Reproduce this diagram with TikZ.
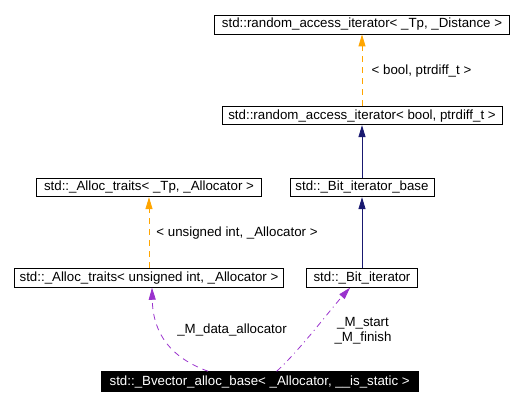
\documentclass[tikz,border=0pt]{standalone}
\usepackage{fontspec}
\setmainfont{Liberation Sans}
\usetikzlibrary{arrows.meta}
\definecolor{inhorange}{HTML}{FFA500}
\definecolor{inhnavy}{HTML}{191970}
\definecolor{usepurple}{HTML}{9A32CD}
\tikzset{
  box/.style={draw=black, line width=0.9pt, inner sep=0pt, minimum height=19pt, font=\fontsize{13.3}{15}\selectfont},
  darkbox/.style={box, fill=black, text=white},
  tip/.style={-{Triangle[length=12pt,width=7pt]}},
  tmplink/.style={tip, draw=inhorange, line width=0.9pt, dash pattern=on 6pt off 5pt},
  inhlink/.style={tip, draw=inhnavy, line width=0.9pt},
  uselink/.style={tip, draw=usepurple, line width=0.8pt, dash pattern=on 6pt off 5pt},
  usedot/.style={tip, draw=usepurple, line width=0.8pt, dash pattern=on 6pt off 4pt on 1pt off 4pt},
  lbl/.style={inner sep=0pt, font=\fontsize{13.3}{15}\selectfont, align=center}
}
\begin{document}
\begin{tikzpicture}[x=1pt,y=-1pt]
\useasboundingbox (0,0) rectangle (522,406);
\node[box, minimum width=295pt] (A) at (362,24.5) {std::random\_access\_iterator< \_Tp, \_Distance >};
\node[box, minimum width=280pt, minimum height=18pt] (B) at (362,115.7) {std::random\_access\_iterator< bool, ptrdiff\_t >};
\node[box, minimum width=225pt, minimum height=18.4pt] (C) at (149,187.5) {std::\_Alloc\_traits< \_Tp, \_Allocator >};
\node[box, minimum width=144pt, minimum height=18.4pt] (D) at (362,187.5) {std::\_Bit\_iterator\_base};
\node[box, minimum width=269pt] (E) at (149,277.8) {std::\_Alloc\_traits< unsigned int, \_Allocator >};
\node[box, minimum width=111pt] (F) at (362,277.8) {std::\_Bit\_iterator};
\node[darkbox, minimum width=317pt, minimum height=20pt] (G) at (259.7,381.7) {std::\_Bvector\_alloc\_base< \_Allocator, \_\_is\_static >};

\draw[tmplink] (B) -- (A);
\node[lbl] (lab1) at (421.5,71) {< bool, ptrdiff\_t >};
\draw[inhlink] (D) -- (B);
\draw[tmplink] (E) -- (C);
\node[lbl] (lab2) at (237,233.5) {< unsigned int, \_Allocator >};
\draw[inhlink] (F) -- (D);
\draw[uselink] ([xshift=-51.7pt]G.north) .. controls (172,358) and (153,335) .. ([xshift=3pt]E.south);
\node[lbl] (lab3) at (232,330) {\_M\_data\_allocator};
\draw[usedot] ([xshift=17pt]G.north) .. controls (300,350) and (330,310) .. ([xshift=-12pt]F.south);
\node[lbl] (lab4) at (363,331) {\_M\_start\\\_M\_finish};
\end{tikzpicture}
\end{document}
